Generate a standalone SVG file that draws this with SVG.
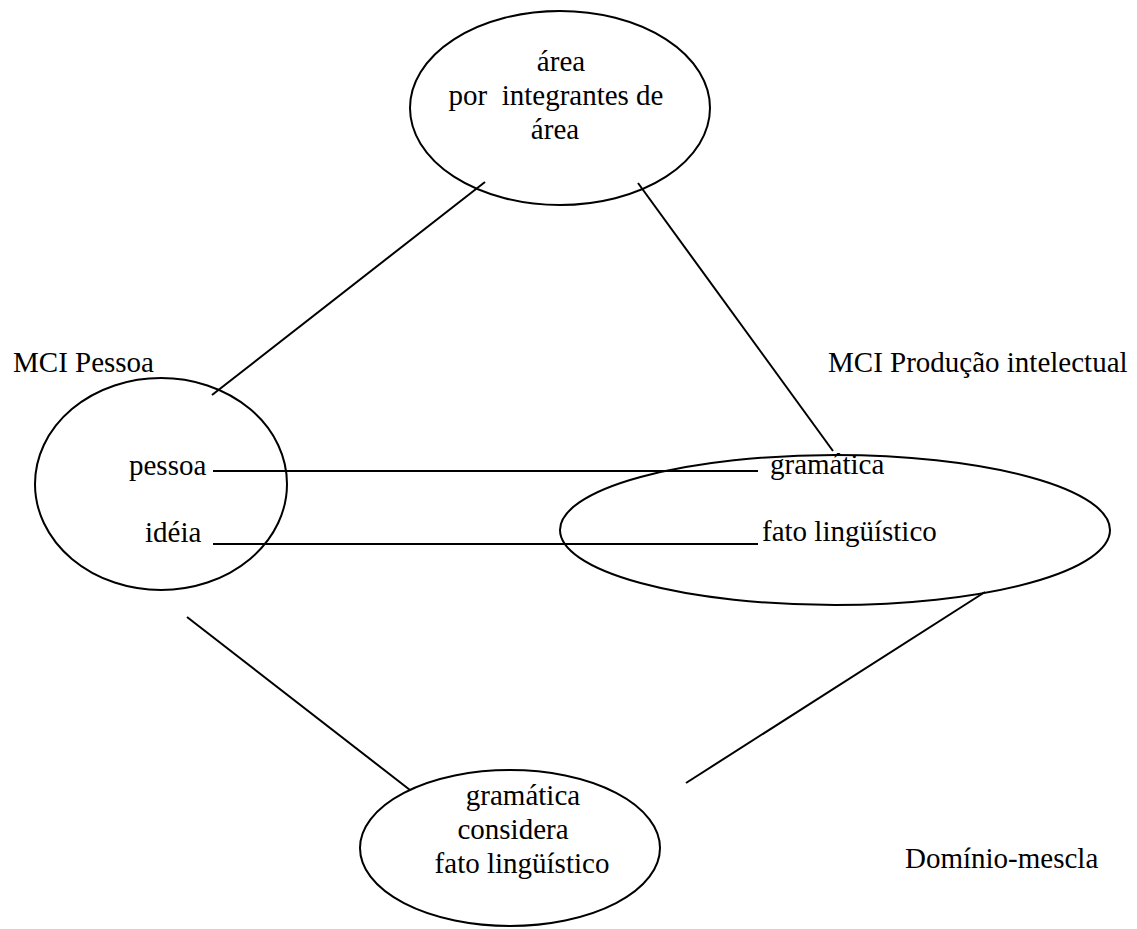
<svg xmlns="http://www.w3.org/2000/svg" width="1137" height="929" viewBox="0 0 1137 929">
<style>
.n{fill:none;stroke:#000;stroke-width:2}
.c line{stroke:#000;stroke-width:2}
.t text{font-size:29px;fill:#000}
.m{text-anchor:middle}
</style>
<rect width="1137" height="929" fill="#fff"/>
<g id="connectors" class="c">
<line x1="485" y1="182" x2="212" y2="395"/>
<line x1="638" y1="183" x2="833" y2="451"/>
<line x1="213" y1="471" x2="758" y2="471"/>
<line x1="213" y1="544" x2="758" y2="544"/>
<line x1="187" y1="617" x2="410" y2="790"/>
<line x1="985" y1="592" x2="686" y2="783"/>
</g>
<g class="t" font-family="'Liberation Serif', 'Times New Roman', serif">
<g id="top">
<ellipse class="n" cx="560" cy="108" rx="150" ry="97"/>
<text class="m" x="561" y="71">área</text>
<text class="m" x="556" y="105" xml:space="preserve">por  integrantes de</text>
<text class="m" x="555" y="139">área</text>
</g>
<g id="pessoa">
<ellipse class="n" cx="161" cy="484" rx="126" ry="106"/>
<text x="129" y="475">pessoa</text>
<text x="145" y="542">idéia</text>
</g>
<g id="producao">
<ellipse class="n" cx="835" cy="530" rx="275" ry="75"/>
<text x="770" y="474">gramática</text>
<text x="762" y="541">fato lingüístico</text>
</g>
<g id="mescla">
<ellipse class="n" cx="510" cy="848" rx="150" ry="78"/>
<text class="m" x="523" y="805">gramática</text>
<text class="m" x="513" y="839">considera</text>
<text class="m" x="522" y="873">fato lingüístico</text>
</g>
<g id="labels">
<text x="13" y="372">MCI Pessoa</text>
<text x="828" y="372">MCI Produção intelectual</text>
<text x="905" y="868">Domínio-mescla</text>
</g>
</g>
</svg>
